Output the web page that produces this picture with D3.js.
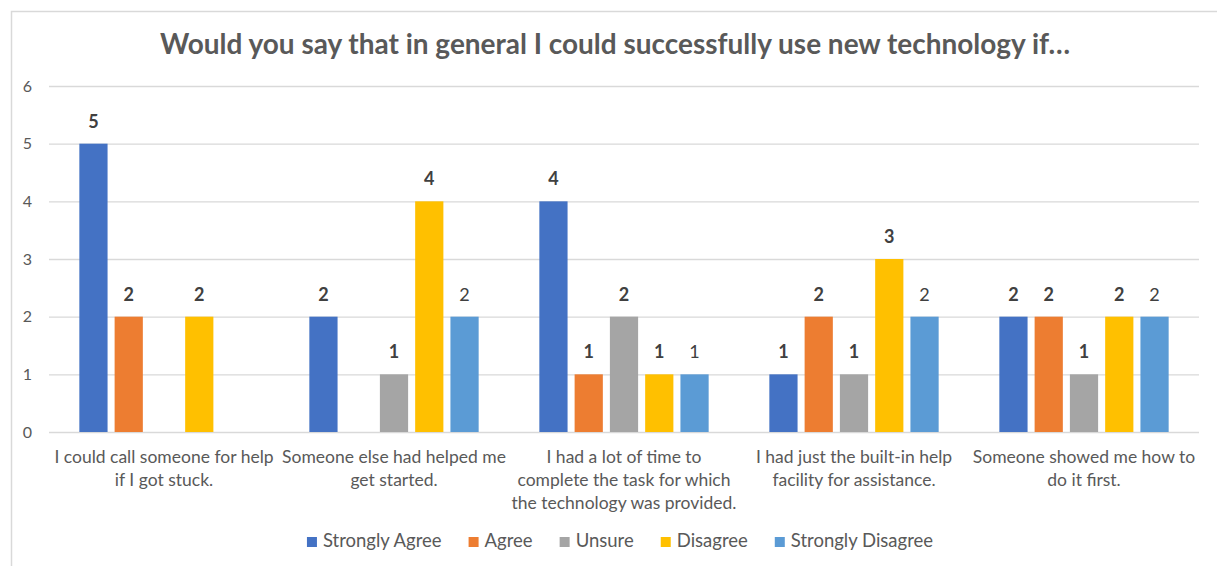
<!DOCTYPE html>
<html>
<head>
<meta charset="utf-8">
<script src="https://cdn.jsdelivr.net/npm/d3@7"></script>
<style>
  html, body { margin: 0; padding: 0; background: #fff; }
  svg { display: block; font-family: Lato, "Open Sans", sans-serif; }
</style>
</head>
<body>
<div id="chart"></div>
<script>
/**
 * CONSTANTS AND DATA
 * */
const width = 1217,
  height = 566,
  margin = { top: 86, bottom: 134, left: 49, right: 18 };

const title = "Would you say that in general I could successfully use new technology if…";

const categories = [
  "I could call someone for help\nif I got stuck.",
  "Someone else had helped me\nget started.",
  "I had a lot of time to\ncomplete the task for which\nthe technology was provided.",
  "I had just the built-in help\nfacility for assistance.",
  "Someone showed me how to\ndo it first."
];

const seriesNames = ["Strongly Agree", "Agree", "Unsure", "Disagree", "Strongly Disagree"];
const seriesColors = ["#4472C4", "#ED7D31", "#A5A5A5", "#FFC000", "#5B9BD5"];

// one array per series, one value per category (null = no bar)
const stronglyAgree = [5, 2, 4, 1, 2];
const agree = [2, null, 1, 2, 2];
const unsure = [null, 1, 2, 1, 1];
const disagree = [2, 4, 1, 3, 2];
const stronglyDisagree = [null, 2, 1, 2, 2];

const yTicks = [0, 1, 2, 3, 4, 5, 6];

const seriesValues = [stronglyAgree, agree, unsure, disagree, stronglyDisagree];

/**
 * SCALES
 * */
const x0 = d3.scaleBand()
  .domain(categories)
  .range([margin.left, width - margin.right])
  .paddingInner(0)
  .paddingOuter(0);

const groupInset = x0.bandwidth() * 0.1166;
const x1 = d3.scaleBand()
  .domain(seriesNames)
  .range([groupInset, x0.bandwidth() - groupInset])
  .paddingInner(0.2)
  .paddingOuter(0.1);

const y = d3.scaleLinear()
  .domain([0, 6])
  .range([height - margin.bottom, margin.top]);

/**
 * DRAW
 * */
const svg = d3.select("#chart")
  .append("svg")
  .attr("width", width)
  .attr("height", height);

// chart frame
svg.append("rect")
  .attr("x", 11.5)
  .attr("y", 11.5)
  .attr("width", width + 20)
  .attr("height", height + 20)
  .attr("fill", "#fff")
  .attr("stroke", "#d9d9d9")
  .attr("stroke-width", 1.5);

// title
svg.append("text")
  .attr("x", 615)
  .attr("y", 54)
  .attr("text-anchor", "middle")
  .attr("fill", "#595959")
  .attr("textLength", 910)
  .attr("lengthAdjust", "spacingAndGlyphs")
  .style("font-size", "28px")
  .style("font-weight", 700)
  .text(title);

// gridlines + y labels
const yAxis = d3.axisLeft(y)
  .tickValues(yTicks)
  .tickSize(-(width - margin.left - margin.right))
  .tickPadding(17)
  .tickFormat(d3.format("d"));

const yg = svg.append("g")
  .attr("transform", `translate(${margin.left},0)`)
  .call(yAxis);
yg.select(".domain").remove();
yg.selectAll(".tick line")
  .attr("stroke", "#d9d9d9")
  .attr("stroke-width", 1.3);
yg.selectAll(".tick text")
  .attr("fill", "#595959")
  .style("font-size", "16px")
  .style("font-family", "Lato, sans-serif");

// bars
const groups = svg.selectAll(".group")
  .data(categories)
  .join("g")
  .attr("class", "group")
  .attr("transform", d => `translate(${x0(d)},0)`);

const barData = (c, ci) => seriesNames.map((s, si) => ({
  series: s, si, value: seriesValues[si][ci]
})).filter(d => d.value != null);

groups.selectAll("rect")
  .data((c, ci) => barData(c, ci))
  .join("rect")
  .attr("x", d => x1(d.series))
  .attr("y", d => y(d.value))
  .attr("width", x1.bandwidth())
  .attr("height", d => y(0) - y(d.value))
  .attr("fill", d => seriesColors[d.si]);

groups.selectAll(".val")
  .data((c, ci) => barData(c, ci))
  .join("text")
  .attr("class", "val")
  .attr("x", d => x1(d.series) + x1.bandwidth() / 2)
  .attr("y", d => y(d.value) - 16)
  .attr("text-anchor", "middle")
  .attr("fill", "#404040")
  .style("font-size", "18px")
  .style("font-weight", d => d.series === "Strongly Disagree" ? 400 : 700)
  .text(d => d.value);

// category labels
const xg = svg.append("g");
xg.selectAll("text")
  .data(categories)
  .join("text")
  .attr("x", d => x0(d) + x0.bandwidth() / 2)
  .attr("y", 463)
  .attr("text-anchor", "middle")
  .attr("fill", "#595959")
  .style("font-size", "17.5px")
  .each(function (d) {
    const t = d3.select(this);
    d.split("\n").forEach((line, i) => {
      t.append("tspan")
        .attr("x", x0(d) + x0.bandwidth() / 2)
        .attr("dy", i === 0 ? 0 : 23)
        .text(line);
    });
  });

// legend
const legend = svg.append("g");
const items = legend.selectAll(".item")
  .data(seriesNames)
  .join("g")
  .attr("class", "item");

items.append("rect")
  .attr("width", 10)
  .attr("height", 10)
  .attr("y", 537)
  .attr("fill", (d, i) => seriesColors[i]);

items.append("text")
  .attr("x", 16)
  .attr("y", 547)
  .attr("fill", "#595959")
  .style("font-size", "18.5px")
  .text(d => d);

let cursor = 0;
const offsets = [];
items.each(function () {
  const w = d3.select(this).select("text").node().getComputedTextLength();
  offsets.push(cursor);
  cursor += 16 + w + 27;
});
const total = cursor - 27;
const start = 620 - total / 2;
items.attr("transform", (d, i) => `translate(${start + offsets[i]},0)`);
</script>
</body>
</html>
